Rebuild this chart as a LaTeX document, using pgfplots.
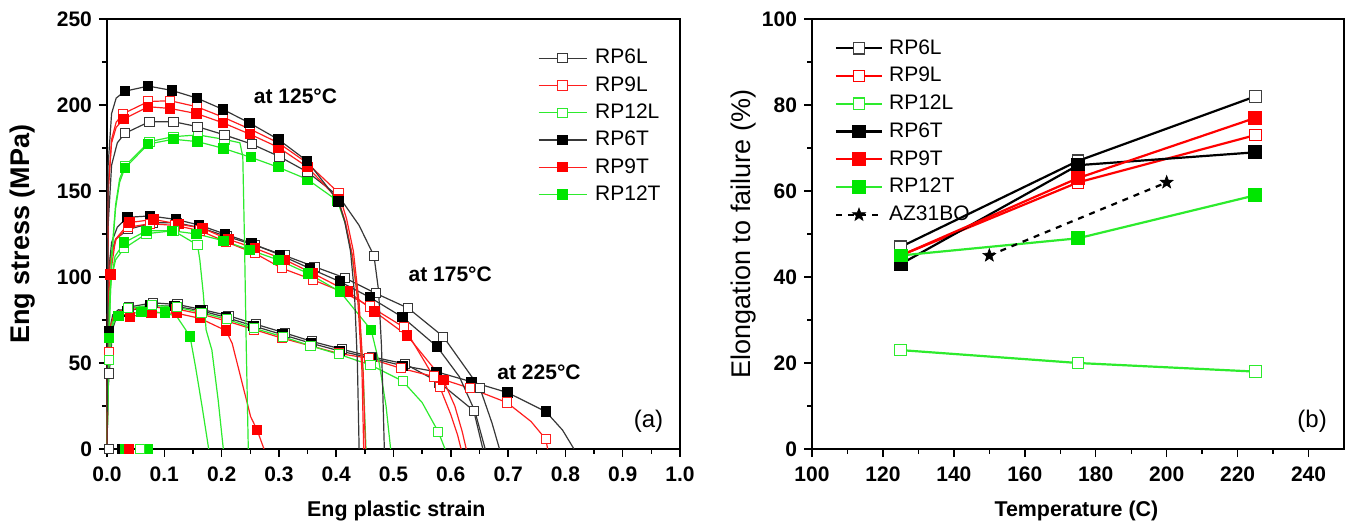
\documentclass[border=0pt]{standalone}
\usepackage{fontspec}
\setmainfont{Liberation Sans}
\usepackage{pgfplots}
\pgfplotsset{compat=1.18}
\definecolor{lblk}{RGB}{55,55,55}
\definecolor{lred}{RGB}{255,30,30}
\definecolor{lgrn}{RGB}{45,235,45}
\definecolor{fgrn}{RGB}{0,230,0}
\pgfdeclareplotmark{fstar}{%
  \pgfpathmoveto{\pgfqpointpolar{90}{\pgfplotmarksize}}%
  \pgfpathlineto{\pgfqpointpolar{126}{0.42\pgfplotmarksize}}%
  \pgfpathlineto{\pgfqpointpolar{162}{\pgfplotmarksize}}%
  \pgfpathlineto{\pgfqpointpolar{198}{0.42\pgfplotmarksize}}%
  \pgfpathlineto{\pgfqpointpolar{234}{\pgfplotmarksize}}%
  \pgfpathlineto{\pgfqpointpolar{270}{0.42\pgfplotmarksize}}%
  \pgfpathlineto{\pgfqpointpolar{306}{\pgfplotmarksize}}%
  \pgfpathlineto{\pgfqpointpolar{342}{0.42\pgfplotmarksize}}%
  \pgfpathlineto{\pgfqpointpolar{18}{\pgfplotmarksize}}%
  \pgfpathlineto{\pgfqpointpolar{54}{0.42\pgfplotmarksize}}%
  \pgfpathclose\pgfusepathqfillstroke}
\pgfplotsset{
  cL/.style={line width=0.6pt, mark=square*, mark size=2.3pt},
  bL/.style={cL, color=lblk, mark options={fill=white, draw=lblk, line width=0.5pt}},
  bT/.style={cL, color=lblk, mark options={fill=black, draw=black}},
  rL/.style={cL, color=lred, mark options={fill=white, draw=lred, line width=0.5pt}},
  rT/.style={cL, color=lred, mark options={fill=red, draw=red}},
  gL/.style={cL, color=lgrn, mark options={fill=white, draw=lgrn, line width=0.5pt}},
  gT/.style={cL, color=lgrn, mark options={fill=fgrn, draw=fgrn}},
  cR/.style={line width=1.1pt, mark=square*, mark size=2.9pt},
  RbL/.style={cR, color=black, mark options={fill=white, draw=black!75, line width=0.6pt}},
  RbT/.style={cR, color=black, mark options={fill=black, draw=black}},
  RrL/.style={cR, color=red, mark options={fill=white, draw=red, line width=0.6pt}},
  RrT/.style={cR, color=red, mark options={fill=red, draw=red}},
  RgL/.style={cR, color=lgrn, mark options={fill=white, draw=lgrn, line width=0.6pt}},
  RgT/.style={cR, color=lgrn, mark options={fill=fgrn, draw=fgrn}},
  RAZ/.style={line width=1.1pt, color=black, dashed, mark=fstar, mark size=3.4pt, mark options={solid, fill=black, line width=0.3pt}},
  tickfont/.style={font=\fontsize{10.5}{12}\selectfont\bfseries},
}
\begin{document}
\begin{tikzpicture}
\path[use as bounding box] (0,0) rectangle (673pt,262.5pt);
% ---------------- panel (a) ----------------
\begin{axis}[
  at={(53.5pt,38pt)}, anchor=south west, scale only axis,
  width=286.5pt, height=215pt,
  xmin=0, xmax=1, ymin=0, ymax=250,
  xtick={0,0.1,0.2,0.3,0.4,0.5,0.6,0.7,0.8,0.9,1.0},
  ytick={0,50,100,150,200,250},
  minor x tick num=1, minor y tick num=1,
  tick pos=left, tick align=outside,
  major tick length=4pt, minor tick length=2.5pt,
  axis line style={line width=0.8pt},
  every tick/.style={line width=0.7pt, black},
  /pgf/number format/assume math mode=true,
  tick label style={tickfont},
  xticklabel style={/pgf/number format/.cd, fixed, fixed zerofill, precision=1},
  xticklabel shift=1.5pt,
  xlabel={Eng plastic strain},
  ylabel={Eng stress (MPa)},
  xlabel style={font=\fontsize{10.7}{12}\selectfont\bfseries, at={(axis description cs:0.505,-0.144)}, anchor=center},
  ylabel style={font=\fontsize{13.5}{15}\selectfont\bfseries, at={(axis description cs:-0.148,0.5)}, anchor=center},
  legend style={draw=none, fill=none, font=\fontsize{10.5}{12}\selectfont, at={(axis description cs:0.741,0.949)}, anchor=north west, row sep=0.8pt, column sep=2pt},
  legend cell align=left,
  legend image code/.code={\draw[mark repeat=2, mark phase=2, #1] plot coordinates {(0pt,0pt) (12pt,0pt) (24pt,0pt)};},
]
\addlegendimage{bL}\addlegendentry{RP6L}
\addlegendimage{rL}\addlegendentry{RP9L}
\addlegendimage{gL}\addlegendentry{RP12L}
\addlegendimage{bT}\addlegendentry{RP6T}
\addlegendimage{rT}\addlegendentry{RP9T}
\addlegendimage{gT}\addlegendentry{RP12T}
% ===== 225 C =====
\addplot[bL, forget plot, mark indices={3,6,7,8,9,10,11,12,13,14,15,16,17,18}] coordinates {
 (0,0) (0.002,35) (0.004,43.9) (0.01,70) (0.02,80) (0.038,82.5) (0.08,85) (0.123,84) (0.167,81) (0.212,77.5)
 (0.26,72.5) (0.31,67.5) (0.358,62.5) (0.41,58) (0.462,53.6) (0.52,49.5) (0.58,38.6) (0.640,22.3) (0.656,0)};
\addplot[bT, forget plot, mark indices={3,6,7,8,9,10,11,12,13,14,15,16,17,18,19,20}] coordinates {
 (0,0) (0.002,55) (0.004,68.3) (0.01,78) (0.02,81) (0.036,80) (0.075,83.5) (0.118,83) (0.163,80.5) (0.208,76.5)
 (0.256,71.5) (0.306,66.5) (0.356,61.5) (0.406,57) (0.46,53) (0.516,48.4) (0.575,44.9) (0.636,39.1) (0.699,32.8)
 (0.766,21.7) (0.795,11) (0.815,0)};
\addplot[rL, forget plot, mark indices={3,6,7,8,9,10,11,12,13,14,15,16,17,18,19,21}] coordinates {
 (0,0) (0.002,45) (0.004,56.6) (0.01,76) (0.02,80) (0.036,81) (0.078,82.5) (0.12,81.5) (0.163,78.5) (0.208,74.5)
 (0.256,69.5) (0.305,64.5) (0.355,60) (0.405,55.5) (0.4575,52.7) (0.513,46.9) (0.5705,42.1) (0.634,35.3) (0.698,27.0)
 (0.74,16) (0.766,5.6) (0.769,0)};
\addplot[rT, forget plot, mark indices={5,6,7,8,9,13}] coordinates {
 (0,0) (0.002,55) (0.006,72) (0.015,78) (0.040,76.9) (0.078,79.3) (0.122,78.9) (0.162,76) (0.2077,68.8)
 (0.2185,61.4) (0.236,38.2) (0.2507,18.8) (0.262,11) (0.274,0)};
\addplot[gL, forget plot, mark indices={3,6,7,8,9,10,11,12,13,14,15,16,18}] coordinates {
 (0,0) (0.002,40) (0.004,51.7) (0.01,72) (0.02,79) (0.037,81.8) (0.078,83.7) (0.122,82.4) (0.165,79.3) (0.209,75.4)
 (0.2565,70.2) (0.3066,65.3) (0.355,60) (0.405,55) (0.46,48.8) (0.516,39.5) (0.55,27) (0.578,10.1) (0.59,0)};
\addplot[gT, forget plot, mark indices={3,5,6,7,10}] coordinates {
 (0,0) (0.002,50) (0.004,64.4) (0.01,74) (0.0198,77.3) (0.0605,79.8) (0.101,79.3) (0.122,76.9) (0.134,71)
 (0.145,65.3) (0.1545,47.8) (0.166,24.6) (0.1775,0)};
% ===== 175 C =====
\addplot[bL, forget plot, mark indices={5,6,7,8,9,10,11,12,13,14,15,16,17}] coordinates {
 (0,0) (0.002,95) (0.006,112) (0.015,122) (0.037,127.7) (0.08,131.5) (0.122,131.5) (0.165,128.5) (0.21,123.5)
 (0.258,118.5) (0.31,112.5) (0.362,106) (0.415,99.5) (0.469,90.5) (0.526,81.8) (0.587,65.3) (0.651,35.3)
 (0.672,15) (0.685,0)};
\addplot[bT, forget plot, mark indices={5,6,7,8,9,10,11,12,13,14,15,16}] coordinates {
 (0,0) (0.002,100) (0.008,120) (0.018,129) (0.0355,134.7) (0.075,135.5) (0.120,133.5) (0.161,130.2) (0.206,125)
 (0.2525,119.6) (0.302,112.8) (0.354,105) (0.4066,97.3) (0.459,88.1) (0.516,76.6) (0.576,59.5)
 (0.615,42) (0.642,22) (0.66,0)};
\addplot[rL, forget plot, mark indices={5,6,7,8,9,10,11,12,13,14,15,16}] coordinates {
 (0,0) (0.002,90) (0.006,110) (0.016,122) (0.037,128.9) (0.075,131) (0.118,130) (0.162,127) (0.207,120.5)
 (0.258,113.8) (0.305,105.1) (0.36,98.3) (0.41,91.5) (0.459,82.9) (0.5185,70.7) (0.581,35.9)
 (0.6,20) (0.612,8) (0.618,0)};
\addplot[rT, forget plot, mark indices={3,5,6,7,8,9,10,11,12,13,14,15,16}] coordinates {
 (0,0) (0.002,85) (0.006,101.4) (0.015,122) (0.039,131.6) (0.081,133.5) (0.1245,130.8) (0.167,128.3) (0.2117,121.9)
 (0.258,116.7) (0.311,109.9) (0.36,102) (0.421,91.5) (0.4665,80) (0.524,65.9) (0.587,40.1)
 (0.607,25) (0.62,10) (0.627,0)};
\addplot[gL, forget plot, mark indices={5,6,7,8}] coordinates {
 (0,0) (0.002,75) (0.007,98) (0.015,110) (0.030,116.7) (0.069,125.2) (0.116,126.9) (0.158,118.6)
 (0.162,110) (0.168,90.5) (0.173,69.2) (0.183,57.6) (0.194,28.5) (0.203,0)};
\addplot[gT, forget plot, mark indices={5,6,7,8,9,10,11,12,13,14}] coordinates {
 (0,0) (0.002,70) (0.006,95) (0.014,112) (0.030,120) (0.069,126.9) (0.113,126.9) (0.1565,125) (0.203,121.1)
 (0.2496,115.7) (0.299,109.9) (0.351,102.1) (0.4066,91.5) (0.461,69.2) (0.475,50) (0.487,25) (0.495,0)};
% ===== 125 C =====
\addplot[gL, forget plot, mark indices={6,7,8,9,10}] coordinates {
 (0,0) (0.003,60) (0.008,112) (0.015,142) (0.022,157) (0.031,164.5) (0.074,178.7) (0.116,181.6) (0.159,182.6)
 (0.205,180) (0.232,178) (0.237,170) (0.24,120) (0.243,60) (0.2466,0)};
\addplot[gT, forget plot, mark indices={6,7,8,9,10,11,12,13,14}] coordinates {
 (0,0) (0.003,60) (0.008,110) (0.015,140) (0.022,155) (0.031,163.2) (0.072,177.3) (0.116,180.1) (0.158,178.7)
 (0.203,174.8) (0.251,169.6) (0.299,163.8) (0.3496,156.8) (0.402,144.4) (0.416,131) (0.428,112) (0.439,85)
 (0.447,45) (0.452,0)};
\addplot[bL, forget plot, mark indices={5,6,7,8,9,10,11,12,13,15}] coordinates {
 (0,0) (0.002,130) (0.008,165) (0.018,178) (0.031,183.5) (0.074,190.3) (0.116,190.3) (0.158,187.4) (0.205,182.6)
 (0.2525,177.3) (0.301,170) (0.35,161) (0.405,146.7) (0.44,130) (0.466,112.2) (0.474,92) (0.479,60) (0.482,25)
 (0.484,0)};
\addplot[rL, forget plot, mark indices={5,6,7,8,9,10,11,12,13}] coordinates {
 (0,0) (0.002,150) (0.008,180) (0.016,190) (0.0285,195) (0.072,202) (0.110,202.5) (0.1565,199) (0.202,193)
 (0.2496,186) (0.299,178) (0.3485,166.5) (0.404,149) (0.418,134) (0.43,115) (0.44,85) (0.447,45) (0.451,0)};
\addplot[rT, forget plot, mark indices={5,6,7,8,9,10,11,12,13}] coordinates {
 (0,0) (0.002,150) (0.008,178) (0.016,187) (0.0285,191.7) (0.072,199) (0.110,198) (0.1565,195) (0.202,189.7)
 (0.2496,183) (0.299,175.4) (0.3496,164) (0.4037,145) (0.416,132) (0.428,113) (0.438,85) (0.445,45) (0.448,0)};
\addplot[bT, forget plot, mark indices={5,6,7,8,9,10,11,12,13}] coordinates {
 (0,0) (0.002,165) (0.008,195) (0.016,204) (0.031,208) (0.072,211) (0.113,208.5) (0.157,204) (0.202,197.5)
 (0.249,189.5) (0.299,180) (0.349,167.5) (0.404,144) (0.415,132) (0.425,115) (0.432,90) (0.437,50) (0.44,0)};
% markers lying on the strain axis
\addplot[bL, only marks, forget plot] coordinates {(0.004,0)};
\addplot[bT, only marks, forget plot] coordinates {(0.026,0)};
\addplot[gT, only marks, forget plot] coordinates {(0.031,0) (0.072,0)};
\addplot[rT, only marks, forget plot] coordinates {(0.038,0)};
\addplot[gL, only marks, forget plot] coordinates {(0.057,0)};
\node[font=\fontsize{10.5}{12}\selectfont\bfseries] at (axis cs:0.329,205) {at 125°C};
\node[font=\fontsize{10.5}{12}\selectfont\bfseries] at (axis cs:0.599,101.5) {at 175°C};
\node[font=\fontsize{10.5}{12}\selectfont\bfseries] at (axis cs:0.754,44.9) {at 225°C};
\node[font=\fontsize{12}{14}\selectfont] at (axis cs:0.945,16.2) {(a)};
\end{axis}
% ---------------- panel (b) ----------------
\begin{axis}[
  at={(406pt,38pt)}, anchor=south west, scale only axis,
  width=266pt, height=215pt,
  xmin=100, xmax=250, ymin=0, ymax=100,
  xtick={100,120,140,160,180,200,220,240},
  ytick={0,20,40,60,80,100},
  minor x tick num=1, minor y tick num=1,
  tick pos=left, tick align=outside,
  major tick length=4pt, minor tick length=2.5pt,
  axis line style={line width=0.8pt},
  every tick/.style={line width=0.7pt, black},
  /pgf/number format/assume math mode=true,
  tick label style={tickfont},
  xticklabel shift=1.5pt,
  xlabel={Temperature (C)},
  ylabel={Elongation to failure (\%)},
  xlabel style={font=\fontsize{10.7}{12}\selectfont\bfseries, at={(axis description cs:0.497,-0.144)}, anchor=center},
  ylabel style={font=\fontsize{13.5}{15}\selectfont, at={(axis description cs:-0.128,0.5)}, anchor=center},
  legend style={draw=none, fill=none, font=\fontsize{10.5}{12}\selectfont, at={(axis description cs:0.031,0.972)}, anchor=north west, row sep=1.05pt, column sep=1pt},
  legend cell align=left,
  legend image code/.code={\draw[mark repeat=2, mark phase=2, #1] plot coordinates {(0pt,0pt) (11.5pt,0pt) (23pt,0pt)};},
]
\addplot[RbL] coordinates {(125,47) (175,67) (225,82)};
\addlegendentry{RP6L}
\addplot[RrL] coordinates {(125,45) (175,62) (225,73)};
\addlegendentry{RP9L}
\addplot[RgL] coordinates {(125,23) (175,20) (225,18)};
\addlegendentry{RP12L}
\addplot[RbT] coordinates {(125,43) (175,66) (225,69)};
\addlegendentry{RP6T}
\addplot[RrT] coordinates {(125,45) (175,63) (225,77)};
\addlegendentry{RP9T}
\addplot[RgT] coordinates {(125,45) (175,49) (225,59)};
\addlegendentry{RP12T}
\addplot[RAZ] coordinates {(150,45) (200,62)};
\addlegendentry{AZ31BO}
\node[font=\fontsize{12}{14}\selectfont] at (axis cs:241,6.5) {(b)};
\end{axis}
\end{tikzpicture}
\end{document}
